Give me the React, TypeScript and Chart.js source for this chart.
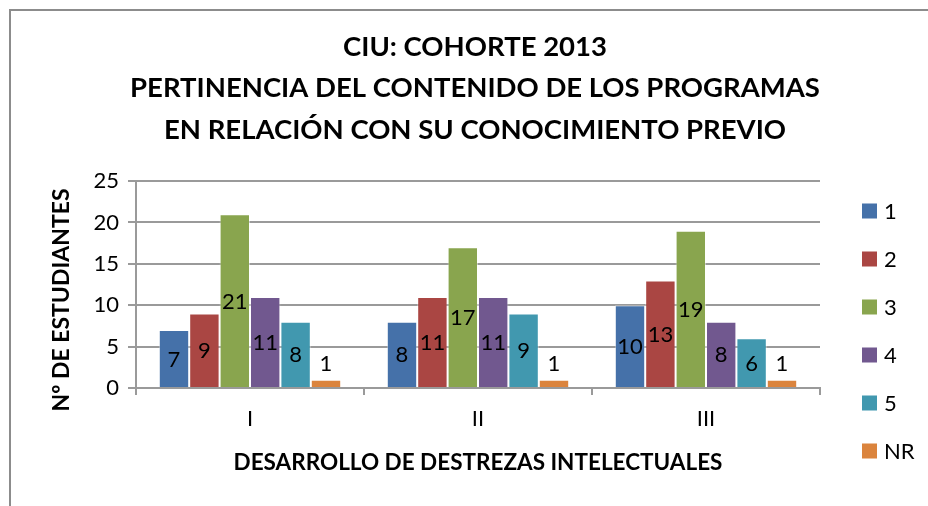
import React, { useEffect, useRef } from "react";
import { Chart, registerables } from "chart.js";

Chart.register(...registerables);

const categories = ["I", "II", "III"];
const seriesNames = ["1", "2", "3", "4", "5", "NR"];
const s1 = [7, 8, 10];
const s2 = [9, 11, 13];
const s3 = [21, 17, 19];
const s4 = [11, 11, 8];
const s5 = [8, 9, 6];
const sNR = [1, 1, 1];
const seriesValues = [s1, s2, s3, s4, s5, sNR];
const seriesColors = ["#4571A9", "#AA4643", "#89A54E", "#71588F", "#4198AF", "#DB843D"];
const titleLines = [
  "CIU: COHORTE 2013",
  "PERTINENCIA DEL CONTENIDO DE LOS PROGRAMAS",
  "EN RELACIÓN CON SU CONOCIMIENTO PREVIO",
];
const yTitle = "Nº DE ESTUDIANTES";
const xTitle = "DESARROLLO DE DESTREZAS INTELECTUALES";

const FONT = "Lato, 'Noto Sans', sans-serif";

const dataLabelPlugin = {
  id: "dataLabels",
  afterDatasetsDraw(chart: any) {
    const ctx = chart.ctx;
    ctx.save();
    ctx.font = `22px ${FONT}`;
    ctx.fillStyle = "#000";
    ctx.textAlign = "center";
    ctx.textBaseline = "middle";
    chart.data.datasets.forEach((ds: any, i: number) => {
      const meta = chart.getDatasetMeta(i);
      meta.data.forEach((bar: any, j: number) => {
        const h = bar.base - bar.y;
        let y = (bar.y + bar.base) / 2;
        if (h < 22) y = bar.y - 17;
        ctx.fillText(String(ds.data[j]), bar.x, y + 1);
      });
    });
    ctx.restore();
  },
};

const legendPlugin = {
  id: "customLegend",
  afterDraw(chart: any) {
    const ctx = chart.ctx;
    ctx.save();
    ctx.font = `22px ${FONT}`;
    ctx.textAlign = "left";
    ctx.textBaseline = "middle";
    chart.data.datasets.forEach((ds: any, i: number) => {
      const cy = 211 + 48 * i;
      ctx.fillStyle = ds.backgroundColor;
      ctx.fillRect(862, cy - 7.5, 15, 15);
      ctx.fillStyle = "#000";
      ctx.fillText(ds.label, 884, cy + 1);
    });
    ctx.restore();
  },
};

const yTitlePlugin = {
  id: "yTitle",
  afterDraw(chart: any) {
    const ctx = chart.ctx;
    ctx.save();
    ctx.translate(62, 300);
    ctx.rotate(-Math.PI / 2);
    ctx.font = `bold 23px ${FONT}`;
    ctx.fillStyle = "#000";
    ctx.textAlign = "center";
    ctx.textBaseline = "middle";
    ctx.fillText(yTitle, 0, 0);
    ctx.restore();
  },
};

export default function App() {
  const ref = useRef<HTMLCanvasElement | null>(null);
  useEffect(() => {
    if (!ref.current) return;
    const chart = new Chart(ref.current, {
      type: "bar",
      data: {
        labels: categories,
        datasets: seriesNames.map((name, i) => ({
          label: name,
          data: seriesValues[i],
          backgroundColor: seriesColors[i],
          borderColor: "rgba(255,255,255,0.45)",
          borderWidth: 1,
          categoryPercentage: 0.8,
          barPercentage: 1.0,
        })),
      },
      options: {
        animation: false,
        responsive: false,
        maintainAspectRatio: false,
        layout: { padding: { left: 22, right: 0, top: 0, bottom: 0 } },
        plugins: {
          legend: { display: false },
          tooltip: { enabled: false },
          title: {
            display: true,
            text: titleLines,
            color: "#000",
            font: { family: FONT, size: 27.5, weight: "bold", lineHeight: 1.51 },
            padding: { top: 26, bottom: 30.5 },
          },
        },
        scales: {
          x: {
            grid: {
              drawOnChartArea: false,
              drawTicks: true,
              tickLength: 7,
              color: "#9a9a9a",
              lineWidth: 2,
            },
            border: { display: true, color: "#9a9a9a", width: 2 },
            ticks: { color: "#000", font: { family: FONT, size: 22 }, padding: 11 },
            title: {
              display: true,
              text: xTitle,
              color: "#000",
              font: { family: FONT, size: 22.5, weight: "bold", lineHeight: 1.2 },
              padding: { top: 0, bottom: 30 },
            },
            afterFit(scale: any) {
              scale.height = 118;
            },
          },
          y: {
            min: 0,
            max: 25,
            ticks: { stepSize: 5, color: "#000", font: { family: FONT, size: 22 }, padding: 9 },
            grid: { color: "#9a9a9a", lineWidth: 2, tickLength: 8, drawTicks: true },
            border: { display: true, color: "#9a9a9a", width: 2 },
            afterFit(scale: any) {
              scale.width = 114;
            },
          },
          legendSpace: {
            type: "linear",
            position: "right",
            display: true,
            ticks: { display: false },
            grid: { display: false, drawOnChartArea: false, drawTicks: false },
            border: { display: false },
            afterFit(scale: any) {
              scale.width = 108;
            },
          },
        },
      },
      plugins: [dataLabelPlugin, legendPlugin, yTitlePlugin],
    } as any);
    return () => chart.destroy();
  }, []);

  return (
    <div style={{ position: "fixed", left: 0, top: 0, width: 928, height: 506, background: "#fff", overflow: "hidden" }}>
      <div
        style={{
          position: "absolute",
          left: 9,
          top: 9,
          width: 1000,
          height: 600,
          borderLeft: "2px solid #8c8c8c",
          borderTop: "2px solid #8c8c8c",
        }}
      />
      <canvas ref={ref} width={928} height={506} style={{ position: "absolute", left: 0, top: 0 }} />
    </div>
  );
}
